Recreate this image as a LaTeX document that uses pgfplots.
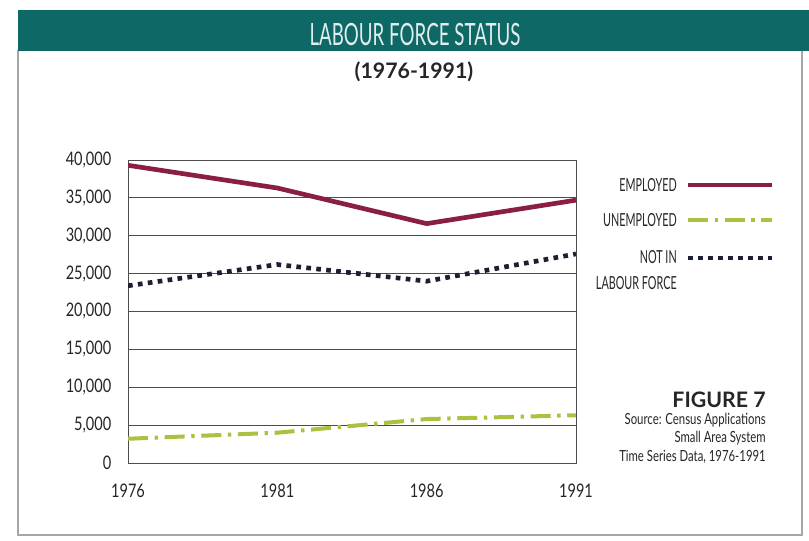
\documentclass[border=0pt]{standalone}
\usepackage{fontspec}
\setmainfont{Lato}
\newfontfamily\cond[FakeStretch=0.61]{Lato}
\newfontfamily\condl[FakeStretch=0.6]{Lato}
\newfontfamily\conds[FakeStretch=0.74]{Lato}
\newfontfamily\condb[FakeStretch=0.78]{Lato}
\usepackage{pgfplots}
\pgfplotsset{compat=1.18}
\definecolor{bar}{HTML}{0D6866}
\definecolor{emp}{HTML}{8A1F3F}
\definecolor{unemp}{HTML}{A9C23F}
\definecolor{nlf}{HTML}{1C1F33}
\tikzset{
  empst/.style={emp, line width=3.5pt, line join=round},
  unempst/.style={unemp, line width=3pt, dash pattern=on 15pt off 5pt on 2.5pt off 5pt},
  nlfst/.style={nlf, line width=3.5pt, dash pattern=on 3.5pt off 4pt},
}
\begin{document}
\begin{tikzpicture}
\path[use as bounding box] (0,0) rectangle (606.75pt,405.75pt);
\fill[white] (0,0) rectangle (606.75pt,405.75pt);
\begin{scope}[x=0.75pt,y=-0.75pt,shift={(0pt,405.75pt)}]
\draw[gray!70, line width=0.8pt] (18,50) -- (18,535) -- (802,535) -- (802,50);
\fill[bar] (18,10) rectangle (809,51);
\node[text=white!88!bar, font=\cond\fontsize{23}{26}\selectfont] at (415,35) {LABOUR FORCE STATUS};
\node[text=black!85, font=\bfseries\fontsize{16}{19}\selectfont] at (414,72) {(1976-1991)};
% legend
\draw[empst] (688,185) -- (772,185);
\draw[unempst] (688,220) -- (772,220);
\draw[nlfst] (688,258) -- (772,258);
\begin{scope}[every node/.style={inner sep=0pt, text=black!85}]
\node[anchor=east, font=\condl\fontsize{13.5}{15}\selectfont] at (677,185) {EMPLOYED};
\node[anchor=east, font=\condl\fontsize{13.5}{15}\selectfont] at (677,220) {UNEMPLOYED};
\node[anchor=east, align=right, font=\condl\fontsize{13.5}{19}\selectfont] at (677,270) {NOT IN\\LABOUR FORCE};
\node[anchor=east, font=\bfseries\fontsize{16}{18}\selectfont] at (766,400) {FIGURE 7};
\node[anchor=east, font=\conds\fontsize{11.5}{13}\selectfont] at (766,420) {Source: Census Applications};
\node[anchor=east, font=\conds\fontsize{11.5}{13}\selectfont] at (766,438) {Small Area System};
\node[anchor=east, font=\conds\fontsize{11.5}{13}\selectfont] at (766,457) {Time Series Data, 1976-1991};
\end{scope}
\end{scope}
\begin{axis}[at={(96pt,58.5pt)}, anchor=south west, scale only axis,
  width=336pt, height=227.25pt,
  xmin=1976, xmax=1991, ymin=0, ymax=40000,
  xtick={1976,1981,1986,1991}, xticklabels={1976,1981,1986,1991},
  ytick={0,5000,...,40000},
  scaled y ticks=false,
  ymajorgrids, grid style={black!70, line width=0.7pt},
  axis line style={black!70, line width=0.7pt},
  major tick length=0pt,
  /pgf/number format/assume math mode=true,
  /pgf/number format/1000 sep={,},
  tick label style={font=\condb\fontsize{14}{16}\selectfont, text=black!85},
  xticklabel style={yshift=-12pt},
  yticklabel style={xshift=-9pt},
]
\addplot[empst] coordinates {(1976,39300) (1981,36300) (1986,31600) (1991,34700)};
\addplot[unempst] coordinates {(1976,3200) (1981,4000) (1986,5800) (1991,6300)};
\addplot[nlfst] coordinates {(1976,23400) (1981,26200) (1986,24000) (1991,27600)};
\end{axis}
\end{tikzpicture}
\end{document}
